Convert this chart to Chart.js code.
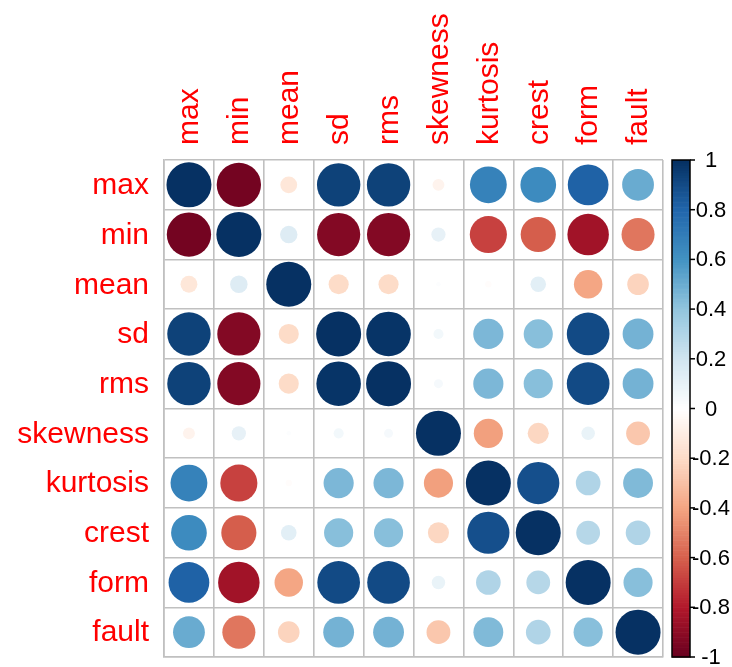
<!DOCTYPE html>
<html>
<head>
<meta charset="utf-8">
<script src="https://cdn.jsdelivr.net/npm/chart.js@4"></script>
<style>
  html, body { margin: 0; padding: 0; background: #fff; overflow: hidden; }
  canvas { display: block; }
</style>
</head>
<body>
<canvas id="corr" width="732" height="667"></canvas>
<script>
const vars = ["max", "min", "mean", "sd", "rms", "skewness", "kurtosis", "crest", "form", "fault"];

// correlation rows, same order as vars
const rowMax      = [ 1.00, -0.97, -0.14,  0.93,  0.93, -0.07,  0.67,  0.63,  0.82,  0.50];
const rowMin      = [-0.97,  1.00,  0.15, -0.92, -0.92,  0.10, -0.68, -0.61, -0.85, -0.54];
const rowMean     = [-0.14,  0.15,  1.00, -0.20, -0.20,  0.01, -0.02,  0.12, -0.40, -0.23];
const rowSd       = [ 0.93, -0.92, -0.20,  1.00,  0.98,  0.05,  0.45,  0.42,  0.90,  0.47];
const rowRms      = [ 0.93, -0.92, -0.20,  0.98,  1.00,  0.04,  0.45,  0.42,  0.90,  0.47];
const rowSkewness = [-0.07,  0.10,  0.01,  0.05,  0.04,  1.00, -0.42, -0.22,  0.09, -0.28];
const rowKurtosis = [ 0.67, -0.68, -0.02,  0.45,  0.45, -0.42,  1.00,  0.88,  0.30,  0.44];
const rowCrest    = [ 0.63, -0.61,  0.12,  0.42,  0.42, -0.22,  0.88,  1.00,  0.28,  0.30];
const rowForm     = [ 0.82, -0.85, -0.40,  0.90,  0.90,  0.09,  0.30,  0.28,  1.00,  0.42];
const rowFault    = [ 0.50, -0.54, -0.23,  0.47,  0.47, -0.28,  0.44,  0.30,  0.42,  1.00];

const colorbarTicks = [-1, -0.8, -0.6, -0.4, -0.2, 0, 0.2, 0.4, 0.6, 0.8, 1];

const rows = [rowMax, rowMin, rowMean, rowSd, rowRms, rowSkewness, rowKurtosis, rowCrest, rowForm, rowFault];

// RdBu diverging ramp, -1 .. 1
const ramp = ["#67001F", "#B2182B", "#D6604D", "#F4A582", "#FDDBC7", "#FFFFFF",
              "#D1E5F0", "#92C5DE", "#4393C3", "#2166AC", "#053061"];

const hex = h => [1, 3, 5].map(i => parseInt(h.slice(i, i + 2), 16));

function corrColor(v) {
  // 200 discrete steps like the usual palette
  const idx = Math.min(199, Math.floor((v + 1) / 2 * 200));
  const t = (idx + 0.5) / 200 * (ramp.length - 1);
  const k = Math.min(ramp.length - 2, Math.floor(t));
  const f = t - k;
  const a = hex(ramp[k]), b = hex(ramp[k + 1]);
  const c = a.map((x, i) => Math.round(x + (b[i] - x) * f));
  return `rgb(${c[0]},${c[1]},${c[2]})`;
}

const points = [];
rows.forEach((row, r) => row.forEach((v, c) => points.push({ x: c + 0.5, y: r + 0.5, v })));

const labelPlugin = {
  id: "corrLabels",
  afterDraw(chart) {
    const { ctx, chartArea, scales } = chart;
    ctx.save();
    ctx.fillStyle = "#ff0000";
    ctx.font = "30px 'Liberation Sans', Arial, sans-serif";

    // row labels
    ctx.textAlign = "right";
    ctx.textBaseline = "middle";
    vars.forEach((name, i) => {
      ctx.fillText(name, chartArea.left - 15, scales.y.getPixelForValue(i + 0.5) + 1);
    });

    // column labels, rotated
    vars.forEach((name, i) => {
      ctx.save();
      ctx.translate(scales.x.getPixelForValue(i + 0.5) + 1, chartArea.top - 15);
      ctx.rotate(-Math.PI / 2);
      ctx.textAlign = "left";
      ctx.textBaseline = "middle";
      ctx.fillText(name, 0, 0);
      ctx.restore();
    });

    // colour legend
    const cb = scales.cb;
    const x0 = chartArea.right + 9, x1 = chartArea.right + 27;
    const steps = 200;
    for (let s = 0; s < steps; s++) {
      const lo = -1 + 2 * s / steps, hi = -1 + 2 * (s + 1) / steps;
      const yTop = cb.getPixelForValue(hi), yBot = cb.getPixelForValue(lo);
      ctx.fillStyle = corrColor((lo + hi) / 2);
      ctx.fillRect(x0, yTop, x1 - x0, yBot - yTop + 0.6);
    }
    ctx.strokeStyle = "#000";
    ctx.lineWidth = 1.5;
    ctx.strokeRect(x0, cb.getPixelForValue(1), x1 - x0, cb.getPixelForValue(-1) - cb.getPixelForValue(1));

    ctx.fillStyle = "#000";
    ctx.font = "22px 'Liberation Sans', Arial, sans-serif";
    ctx.textAlign = "center";
    colorbarTicks.forEach(t => {
      const y = cb.getPixelForValue(t);
      ctx.beginPath();
      ctx.moveTo(x1, y);
      ctx.lineTo(x1 + 5, y);
      ctx.stroke();
      ctx.fillText(String(t), x1 + 21, y + 1);
    });
    ctx.restore();
  }
};

new Chart(document.getElementById("corr"), {
  type: "bubble",
  data: {
    datasets: [{
      data: points,
      backgroundColor: ctx => corrColor(ctx.raw.v),
      borderWidth: 0,
      radius: ctx => {
        const area = ctx.chart.chartArea;
        const cell = area ? (area.right - area.left) / vars.length : 50;
        return cell * 0.45 * Math.sqrt(Math.abs(ctx.raw.v));
      },
      hoverRadius: 0
    }]
  },
  options: {
    responsive: false,
    animation: false,
    events: [],
    layout: { autoPadding: false, padding: { left: 164, right: 69, top: 160, bottom: 10 } },
    plugins: { legend: { display: false }, tooltip: { enabled: false } },
    scales: {
      x: {
        type: "linear", min: 0, max: 10,
        ticks: { display: false, stepSize: 1 },
        grid: { color: "#c0c0c0", lineWidth: 1.6, drawTicks: false },
        border: { color: "#c0c0c0", width: 1.6 }
      },
      y: {
        type: "linear", min: 0, max: 10, reverse: true,
        ticks: { display: false, stepSize: 1 },
        grid: { color: "#c0c0c0", lineWidth: 1.6, drawTicks: false },
        border: { color: "#c0c0c0", width: 1.6 }
      },
      cb: { type: "linear", position: "right", min: -1, max: 1, display: false }
    }
  },
  plugins: [labelPlugin]
});
</script>
</body>
</html>
